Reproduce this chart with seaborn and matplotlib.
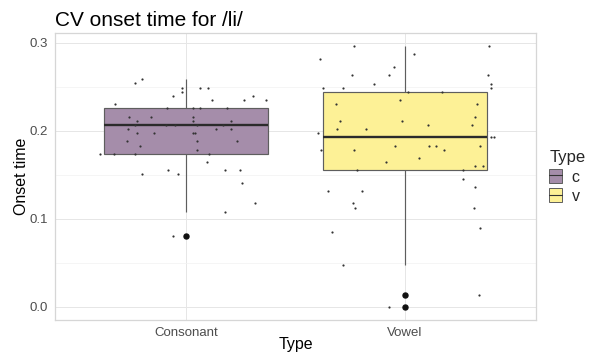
import numpy as np
import pandas as pd
import matplotlib
matplotlib.use('Agg')
import matplotlib.pyplot as plt
import seaborn as sns
from matplotlib.patches import Patch
from matplotlib.lines import Line2D
from matplotlib.ticker import MultipleLocator

# onset times, with the jitter offsets (category units)
cons_onset = [0.2585, 0.2541, 0.2492, 0.2492, 0.2492, 0.2447, 0.2401, 0.2401,
              0.2352, 0.2352, 0.2352, 0.2307, 0.2257, 0.2257, 0.2257, 0.2257,
              0.2163, 0.2163, 0.2163, 0.2117, 0.2117, 0.2117, 0.2072, 0.2072,
              0.2072, 0.2072, 0.2072, 0.2023, 0.2023, 0.2023, 0.1973, 0.1973,
              0.1973, 0.1973, 0.1882, 0.1882, 0.1882, 0.1833, 0.1788, 0.1742,
              0.1742, 0.1742, 0.1742, 0.1648, 0.1552, 0.1552, 0.1552, 0.1507,
              0.1507, 0.1413, 0.1177, 0.1083, 0.0802]
cons_jitter = [-0.204, -0.235, -0.017, 0.061, 0.098, -0.017, -0.060, 0.307,
               0.116, 0.263, 0.365, -0.324, -0.090, 0.029, 0.061, 0.185,
               -0.261, -0.162, 0.029, -0.227, 0.029, 0.203, -0.232, -0.093,
               -0.050, 0.048, 0.170, -0.267, 0.136, 0.203, -0.225, -0.148,
               0.029, 0.040, -0.270, 0.050, 0.234, -0.212, 0.050, -0.396,
               -0.330, -0.235, 0.105, 0.095, -0.082, 0.177, 0.246, -0.202,
               -0.038, 0.255, 0.315, 0.177, -0.060]

vowel_onset = [0.2961, 0.2961, 0.2870, 0.2822, 0.2724, 0.2633, 0.2633, 0.2633,
               0.2538, 0.2538, 0.2492, 0.2492, 0.2492, 0.2447, 0.2447, 0.2352,
               0.2307, 0.2307, 0.2163, 0.2117, 0.2117, 0.2072, 0.2072, 0.2023,
               0.2023, 0.1973, 0.1927, 0.1927, 0.1788, 0.1788, 0.1833, 0.1833,
               0.1833, 0.1833, 0.1788, 0.1697, 0.1648, 0.1598, 0.1598, 0.1552,
               0.1552, 0.1458, 0.1367, 0.1318, 0.1318, 0.1177, 0.1128, 0.1128,
               0.0848, 0.0893, 0.0473, 0.0140, 0.0003]
vowel_jitter = [-0.231, 0.387, 0.042, -0.389, -0.049, -0.242, -0.074, 0.379,
                -0.140, 0.392, -0.375, -0.282, 0.396, 0.013, 0.172, -0.024,
                -0.313, 0.328, 0.320, -0.296, -0.015, 0.104, 0.308, -0.308,
                -0.178, -0.396, 0.396, 0.406, -0.383, -0.233, -0.047, 0.112,
                0.144, 0.346, 0.181, 0.063, -0.088, 0.322, 0.357, -0.218,
                0.267, 0.267, 0.322, -0.351, -0.196, -0.237, -0.227, 0.317,
                -0.332, 0.346, -0.285, 0.341, -0.072]

categories = ['Consonant', 'Vowel']
codes = ['c', 'v']
fills = ['#a58daa', '#fdf196']   # viridis ends at half alpha over white

df = pd.DataFrame({
    'Type': ['Consonant'] * len(cons_onset) + ['Vowel'] * len(vowel_onset),
    'code': ['c'] * len(cons_onset) + ['v'] * len(vowel_onset),
    'onset': cons_onset + vowel_onset,
    'jit': cons_jitter + vowel_jitter,
})
df['xpos'] = df['Type'].map({c: i for i, c in enumerate(categories)}) + df['jit']

sns.set_theme(style='white')
plt.rcParams['font.family'] = ['Liberation Sans', 'DejaVu Sans']

fig = plt.figure(figsize=(5.9, 3.54), dpi=100)
ax = fig.add_axes([55 / 590, 34 / 354, 481 / 590, 286.7 / 354])

sns.boxplot(data=df, x='Type', y='onset', hue='code', order=categories,
            hue_order=codes, palette=dict(zip(codes, fills)), dodge=False,
            width=0.75, saturation=1, linecolor='#5e5e5e', linewidth=0.85,
            legend=False, ax=ax,
            medianprops=dict(color='#2b2b2b', linewidth=1.7),
            capprops=dict(linewidth=0),
            flierprops=dict(marker='o', markerfacecolor='#111111',
                            markeredgecolor='#111111', markersize=3.6))

sns.scatterplot(data=df, x='xpos', y='onset', color='#333333', s=2.5,
                linewidth=0, legend=False, ax=ax, zorder=5)

ax.set_xlim(-0.6, 1.6)
ax.set_ylim(-0.0148, 0.3109)
ax.yaxis.set_major_locator(MultipleLocator(0.1))
ax.yaxis.set_minor_locator(MultipleLocator(0.05))
ax.set_yticks([0.0, 0.1, 0.2, 0.3])
ax.set_yticklabels(['0.0', '0.1', '0.2', '0.3'])
ax.set_xticks([0, 1])
ax.set_xticklabels(categories)

ax.set_axisbelow(True)
ax.grid(True, which='major', color='#e6e6e6', linewidth=0.7)
ax.grid(True, which='minor', axis='y', color='#f2f2f2', linewidth=0.5)
for s in ax.spines.values():
    s.set_color('#d6d6d6')
    s.set_linewidth(0.9)

ax.tick_params(axis='both', which='major', length=3.5, width=0.7,
               color='#c8c8c8', labelsize=9.5, labelcolor='#4d4d4d', pad=1.5)
ax.tick_params(axis='y', which='minor', length=0)

ax.set_xlabel('Type', fontsize=11.5, color='black')
ax.xaxis.label.set_va('baseline')
ax.xaxis.set_label_coords(0.5, -29.3 / 286.7)
ax.set_ylabel('Onset time', fontsize=11.5, color='black')
ax.yaxis.set_label_coords(-26 / 481, 0.5)

fig.text(55 / 590, 1 - 26 / 354, 'CV onset time for /li/', fontsize=15,
         ha='left', va='baseline', color='black')

handles = [(Patch(facecolor=f, edgecolor='#5e5e5e', linewidth=0.7),
            Line2D([0], [0], color='#333333', linewidth=0.8))
           for f in fills]
leg = fig.legend(handles, codes, title='Type', loc='center left',
                 bbox_to_anchor=(543 / 590, 0.5), frameon=False,
                 fontsize=11.5, title_fontsize=12, handlelength=0.8,
                 handleheight=0.9, handletextpad=0.6, labelspacing=0.25,
                 borderaxespad=0)
leg._legend_box.align = 'left'

fig.savefig('out.png', dpi=100)
